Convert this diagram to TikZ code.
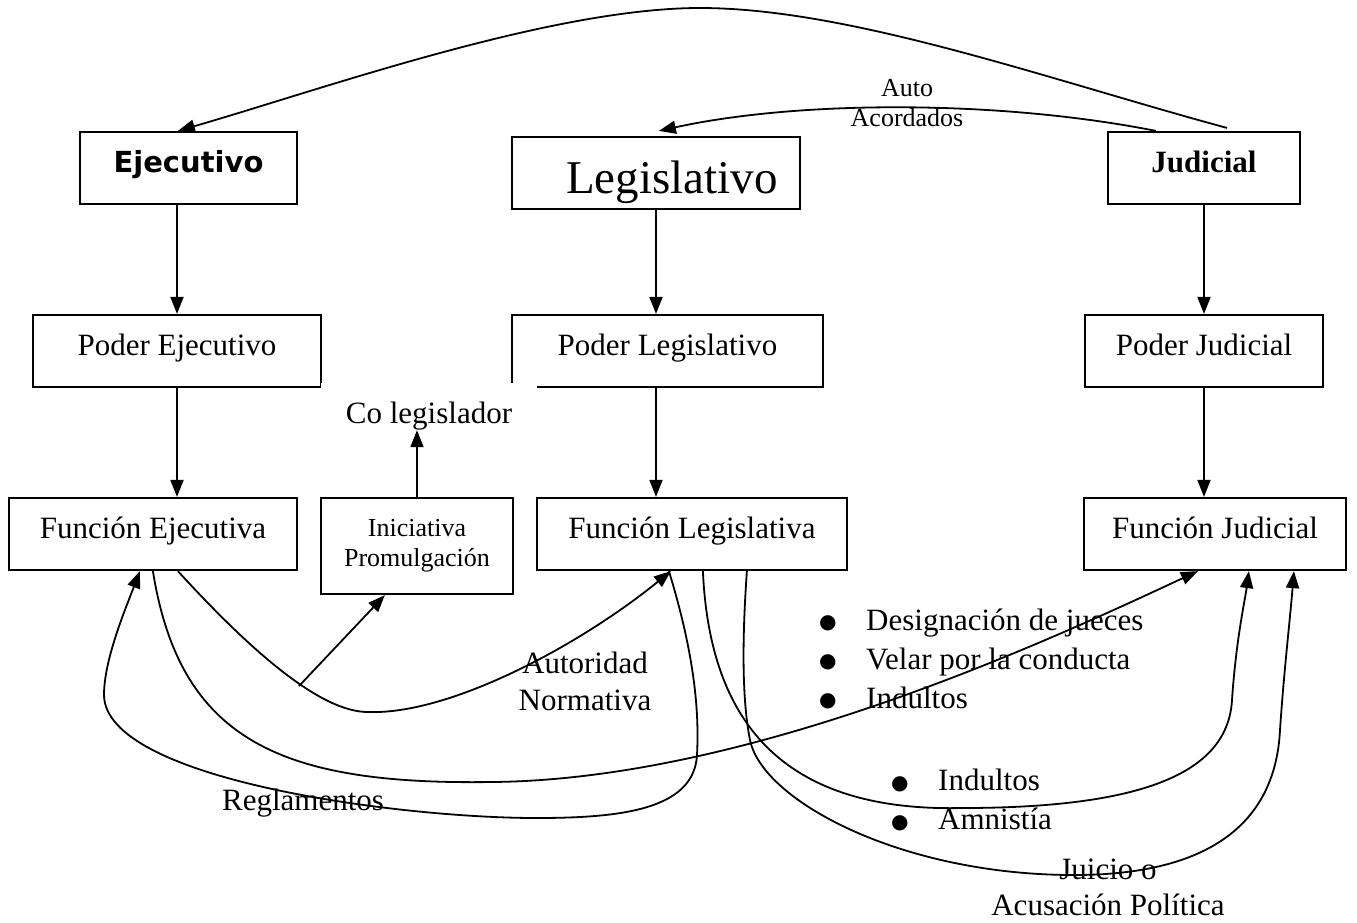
\documentclass[tikz,border=0pt]{standalone}
\usepackage{fontspec}
\setmainfont{Liberation Serif}
\newfontfamily\tahoma{DejaVu Sans}
\usetikzlibrary{arrows.meta}
\newcommand\vineta{\makebox[40pt][l]{\hspace*{-7pt}\raisebox{1.5pt}{\tahoma\fontsize{20}{20}\selectfont ●}}}

\begin{document}
\begin{tikzpicture}[x=1pt,y=-1pt,
  marco/.style={draw,line width=2.2pt,inner sep=0pt},
  caja/.style={marco,text height=20pt,text depth=12pt,font=\fontsize{31}{37}\selectfont},
  flecha/.style={line width=1.8pt,-{Triangle[length=17pt,width=13pt]}},
  txt/.style={inner sep=0pt,align=center,font=\fontsize{31}{37}\selectfont},
  lista/.style={inner sep=0pt,align=left,font=\fontsize{31}{39}\selectfont}]
  \useasboundingbox (0,0) rectangle (1357,922);
  % poderes
  \node[caja,minimum width=217pt,minimum height=72pt,font=\tahoma\bfseries\fontsize{29}{35}\selectfont] (ej) at (188.5,168) {Ejecutivo};
  \node[caja,minimum width=288pt,minimum height=72pt,text height=40pt,text depth=0pt,font=\fontsize{47}{56}\selectfont] (leg) at (656,173) {\hspace*{32pt}Legislativo};
  \node[caja,minimum width=192pt,minimum height=72pt,font=\bfseries\fontsize{31}{37}\selectfont] (jud) at (1204,168) {Judicial};
  \node[caja,minimum width=288pt,minimum height=72pt] (pej) at (177,351) {Poder Ejecutivo};
  \node[caja,minimum width=311pt,minimum height=72pt] (pleg) at (667.5,351) {Poder Legislativo};
  \node[caja,minimum width=238pt,minimum height=72pt] (pjud) at (1204,351) {Poder Judicial};
  % funciones
  \node[caja,minimum width=288pt,minimum height=72pt] (fej) at (153,534) {Funci\'on Ejecutiva};
  \node[marco,minimum width=192pt,minimum height=96pt,align=center,font=\fontsize{26}{30}\selectfont] (ini) at (417,546) {Iniciativa\\Promulgaci\'on};
  \node[caja,minimum width=310pt,minimum height=72pt] (fleg) at (692,534) {Funci\'on Legislativa};
  \node[caja,minimum width=262pt,minimum height=72pt] (fjud) at (1215,534) {Funci\'on Judicial};
  \node[fill=white,inner sep=0pt,minimum width=216pt,minimum height=47pt,text height=36pt,text depth=3pt,font=\fontsize{31}{37}\selectfont] (colegis) at (429,406.5) {Co legislador};
  % flechas verticales
  \draw[flecha] (ej.south -| pej.north) -- (pej.north);
  \draw[flecha] (pej.south) -- (pej.south |- fej.north);
  \draw[flecha] (leg.south) -- (leg.south |- pleg.north);
  \draw[flecha] (pleg.south -| leg.south) -- (fleg.north -| leg.south);
  \draw[flecha] (jud.south) -- (jud.south |- pjud.north);
  \draw[flecha] (pjud.south) -- (pjud.south |- fjud.north);
  \draw[flecha] (ini.north) -- (ini.north |- colegis.south);
  % arcos superiores
  \draw[flecha] ([xshift=120pt,yshift=3pt]jud.north west) .. controls (1050,80) and (850,8) .. (700,8) .. controls (550,8) and (320,90) .. ([xshift=99pt]ej.north west);
  \draw[flecha] ([xshift=49pt]jud.north west) .. controls (1000,100) and (800,100) .. ([xshift=148pt,yshift=5pt]leg.north west);
  \node[txt,anchor=north,font=\fontsize{26}{30}\selectfont] (autoac) at (907,79.5) {Auto\\Acordados};
  % curvas inferiores
  \draw[flecha] ([xshift=170pt]fej.south west) .. controls (250,650) and (320,712) .. (368,712) .. controls (450,715) and (580,645) .. ([xshift=135pt]fleg.south west);
  \coordinate (pieA) at (299,686);
  \draw[flecha] (pieA) -- ([xshift=65pt]ini.south west);
  \draw[flecha] ([xshift=145pt]fej.south west) .. controls (180,740) and (280,785) .. (491,782) .. controls (750,780) and (1050,640) .. ([xshift=115pt]fjud.south west);
  \draw[flecha] ([xshift=133pt]fleg.south west) .. controls (690,640) and (700,700) .. (697,755) .. controls (694,810) and (620,818) .. (536,818) .. controls (400,818) and (105,780) .. (104,695) .. controls (104,660) and (125,610) .. ([xshift=132pt]fej.south west);
  \draw[flecha] ([xshift=167pt]fleg.south west) .. controls (710,730) and (790,812) .. (962,808) .. controls (1150,808) and (1228,770) .. (1232,700) .. controls (1236,640) and (1245,600) .. ([xshift=166pt]fjud.south west);
  \draw[flecha] ([xshift=211pt]fleg.south west) .. controls (742,640) and (742,700) .. (750,740) .. controls (762,800) and (900,875) .. (1074,875) .. controls (1200,875) and (1275,830) .. (1280,730) .. controls (1284,670) and (1290,620) .. ([xshift=211pt]fjud.south west);
  % textos
  \node[txt,anchor=north] (autnor) at (585,652) {Autoridad\\Normativa};
  \node[txt,anchor=base] (regl) at (303,810) {Reglamentos};
  \node[lista,anchor=north west] (lst1) at (826,608.5) {\vineta Designaci\'on de jueces\\\vineta Velar por la conducta\\\vineta Indultos};
  \node[lista,anchor=north west] (lst2) at (898,769) {\vineta Indultos\\\vineta Amnist\'ia};
  \node[txt,anchor=north,font=\fontsize{31}{36}\selectfont] (juicio) at (1108,859) {Juicio o\\Acusaci\'on Pol\'itica};
\end{tikzpicture}
\end{document}
